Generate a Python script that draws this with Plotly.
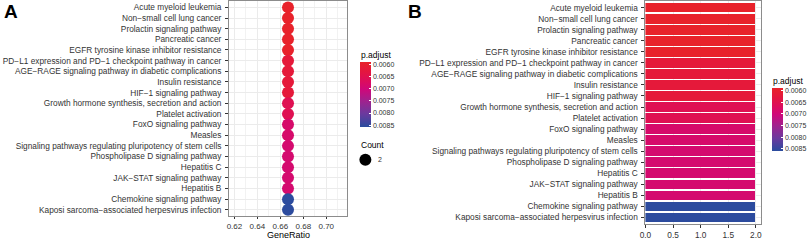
import plotly.graph_objects as go

W, H = 809, 240

pathways = [
    "Acute myeloid leukemia",
    "Non−small cell lung cancer",
    "Prolactin signaling pathway",
    "Pancreatic cancer",
    "EGFR tyrosine kinase inhibitor resistance",
    "PD−L1 expression and PD−1 checkpoint pathway in cancer",
    "AGE−RAGE signaling pathway in diabetic complications",
    "Insulin resistance",
    "HIF−1 signaling pathway",
    "Growth hormone synthesis, secretion and action",
    "Platelet activation",
    "FoxO signaling pathway",
    "Measles",
    "Signaling pathways regulating pluripotency of stem cells",
    "Phospholipase D signaling pathway",
    "Hepatitis C",
    "JAK−STAT signaling pathway",
    "Hepatitis B",
    "Chemokine signaling pathway",
    "Kaposi sarcoma−associated herpesvirus infection",
]
gene_ratio = [2 / 3] * 20
counts = [2] * 20
p_adjust = [0.00592, 0.00592, 0.00592, 0.00592, 0.00592,
            0.00620, 0.00620, 0.00620, 0.00620,
            0.00655, 0.00655,
            0.00685, 0.00685, 0.00690, 0.00690, 0.00690, 0.00690, 0.00690,
            0.00858, 0.00858]
cbar_ticks = [0.0060, 0.0065, 0.0070, 0.0075, 0.0080, 0.0085]
count_ticks = [2]

CMIN, CMAX = 0.0059, 0.0086
# colours from low p (red) to high p (blue)
cstops = [
    [0.0, "#E8232A"],
    [0.15, "#E4163F"],
    [0.3, "#DC0C5E"],
    [0.42, "#CF087A"],
    [0.6, "#A0228E"],
    [0.8, "#6A3A9E"],
    [1.0, "#2A4C9E"],
]
# ggplot shows the smallest p.adjust at the top of the colour bar, so the
# bar is drawn on the negated values (plotly colour bars always increase upward)
cscale_neg = [[1 - s, c] for s, c in reversed(cstops)]
neg_p = [-p for p in p_adjust]

FONT = "Liberation Sans, Arial, sans-serif"
TXT = "#333333"


def px_x(p):
    return p / W


def px_y(p):
    return 1 - p / H


def cbar(x0, y0, length):
    return dict(
        x=px_x(x0), xanchor="left", y=px_y(y0), yanchor="top",
        len=length, lenmode="pixels", thickness=11, thicknessmode="pixels",
        xpad=0, ypad=0, outlinewidth=0,
        tickvals=[-t for t in cbar_ticks],
        ticktext=[f"{t:.4f}" for t in cbar_ticks],
        ticks="inside", ticklen=2, tickcolor="white",
        tickfont=dict(size=7, color=TXT, family=FONT),
        title=dict(text=""),
    )


fig = go.Figure()

fig.add_trace(go.Scatter(
    x=gene_ratio, y=pathways, mode="markers",
    marker=dict(size=[12 for c in counts], sizemode="diameter", opacity=1,
                color=neg_p, colorscale=cscale_neg, cmin=-CMAX, cmax=-CMIN,
                colorbar=cbar(357, 63, 65), line=dict(width=0)),
    xaxis="x", yaxis="y", showlegend=False,
))

fig.add_trace(go.Bar(
    x=counts, y=pathways, orientation="h", width=0.88,
    marker=dict(color=neg_p, colorscale=cscale_neg, cmin=-CMAX, cmax=-CMIN,
                colorbar=cbar(773, 89, 63), line=dict(width=0)),
    xaxis="x2", yaxis="y2", showlegend=False,
))

axis_common = dict(
    showline=True, mirror=True, linecolor="#8c8c8c", linewidth=1,
    tickcolor="#333333", ticks="outside",
    gridcolor="#EBEBEB", gridwidth=1, zeroline=False,
)
tf = dict(size=8.3, color=TXT, family=FONT)

fig.update_layout(
    width=W, height=H, margin=dict(l=0, r=0, t=0, b=0),
    paper_bgcolor="white", plot_bgcolor="white",
    font=dict(family=FONT, color=TXT),
    xaxis=dict(domain=[225 / W, 344 / W], range=[0.6153, 0.7181],
               tick0=0.62, dtick=0.02, tickformat=".2f",
               ticklen=2, tickfont=dict(size=8, color=TXT, family=FONT),
               minor=dict(dtick=0.01, tick0=0.61, showgrid=True,
                          gridcolor="#F2F2F2", gridwidth=0.6, ticks=""),
               anchor="y", **axis_common),
    yaxis=dict(domain=[22 / H, 239 / H], type="category",
               categoryorder="array", categoryarray=pathways,
               range=[19.6, -0.6], anchor="x", ticklabelstandoff=2,
               ticklen=3, tickfont=tf, **axis_common),
    xaxis2=dict(domain=[645 / W, 762 / W], range=[0, 2.1],
                tick0=0, dtick=0.5, tickformat=".1f", anchor="y2",
                ticklen=3, tickfont=tf, **axis_common),
    yaxis2=dict(domain=[14 / H, 239 / H], type="category",
                categoryorder="array", categoryarray=pathways,
                range=[19.6, -0.6], anchor="x2", ticklabelstandoff=2,
                ticklen=3, tickfont=tf, **axis_common),
    bargap=0,
)

annots = [
    dict(text="<b>A</b>", x=px_x(-4), y=px_y(12), xanchor="left", yanchor="middle",
         font=dict(size=19, color="black", family=FONT)),
    dict(text="<b>B</b>", x=px_x(403), y=px_y(12), xanchor="left", yanchor="middle",
         font=dict(size=19, color="black", family=FONT)),
    dict(text="GeneRatio", x=px_x(284.5), y=px_y(237), xanchor="center", yanchor="middle",
         font=dict(size=9, color="black", family=FONT)),
    dict(text="p.adjust", x=px_x(356), y=px_y(55), xanchor="left", yanchor="middle",
         font=dict(size=8.5, color="black", family=FONT)),
    dict(text="p.adjust", x=px_x(772), y=px_y(82), xanchor="left", yanchor="middle",
         font=dict(size=8.5, color="black", family=FONT)),
    dict(text="Count", x=px_x(356), y=px_y(146), xanchor="left", yanchor="middle",
         font=dict(size=8.5, color="black", family=FONT)),
    dict(text=str(count_ticks[0]), x=px_x(373), y=px_y(161), xanchor="left", yanchor="middle",
         font=dict(size=7, color=TXT, family=FONT)),
]
for a in annots:
    a.update(xref="paper", yref="paper", showarrow=False)
fig.update_layout(annotations=annots)

fig.add_shape(type="circle", xref="paper", yref="paper",
              xsizemode="pixel", ysizemode="pixel",
              xanchor=px_x(362.5), yanchor=px_y(161),
              x0=-6, x1=6, y0=-6, y1=6,
              fillcolor="black", line=dict(width=0))

fig.write_html(
    "out.html",
    config={"displayModeBar": False},
    post_script="document.body.style.margin='0';document.body.style.padding='0';",
)
